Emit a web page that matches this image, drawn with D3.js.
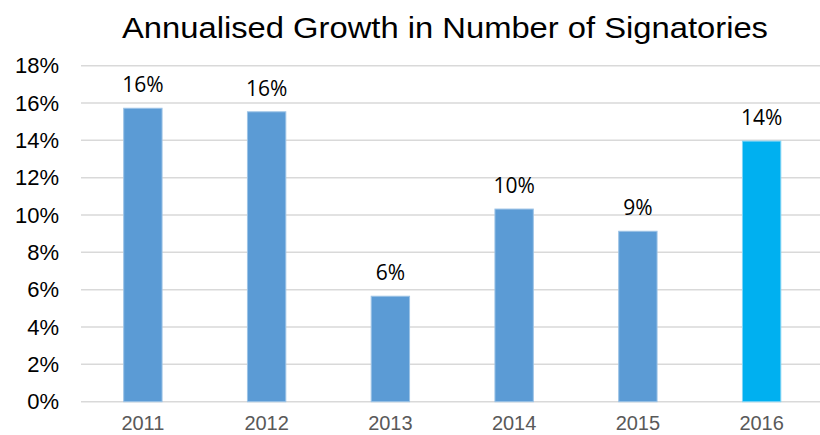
<!DOCTYPE html>
<html>
<head>
<meta charset="utf-8">
<script src="https://cdn.jsdelivr.net/npm/d3@7"></script>
<style>
  body { margin: 0; background: #fff; }
  svg { display: block; }
</style>
</head>
<body>
<svg id="chart"></svg>
<script>
const years = ['2011', '2012', '2013', '2014', '2015', '2016'];
const growth = [15.72, 15.53, 5.65, 10.32, 9.13, 13.96];
const labels = ['16%', '16%', '6%', '10%', '9%', '14%'];
const yTicks = [0, 2, 4, 6, 8, 10, 12, 14, 16, 18];

const width = 820, height = 435;
const margin = { top: 65.7, right: -3.5, bottom: 33.3, left: 81 };
const innerW = width - margin.left - margin.right;
const innerH = height - margin.top - margin.bottom;

const svg = d3.select('#chart')
    .attr('width', width)
    .attr('height', height);

// title
svg.append('text')
    .attr('x', 445)
    .attr('y', 38)
    .attr('text-anchor', 'middle')
    .attr('font-family', 'Liberation Sans, Arial, sans-serif')
    .attr('font-size', 29)
    .attr('fill', '#000')
    .attr('textLength', 646)
    .attr('lengthAdjust', 'spacingAndGlyphs')
    .text('Annualised Growth in Number of Signatories');

const chart = svg.append('g')
    .attr('transform', `translate(${margin.left}, ${margin.top})`);

const xScale = d3.scaleBand()
    .domain(years)
    .range([0, innerW])
    .paddingInner(0.69)
    .paddingOuter(0.345);

const yScale = d3.scaleLinear()
    .domain([0, 18])
    .range([innerH, 0]);

// gridlines
chart.append('g')
    .selectAll('line')
    .data(yTicks)
    .join('line')
        .attr('x1', 0)
        .attr('x2', innerW)
        .attr('y1', d => yScale(d))
        .attr('y2', d => yScale(d))
        .attr('stroke', '#d9d9d9')
        .attr('stroke-width', 1.5);

// y axis labels
const yAxis = d3.axisLeft(yScale)
    .tickValues(yTicks)
    .tickFormat(d => d + '%')
    .tickSize(0)
    .tickPadding(22);

const yAxisG = chart.append('g').call(yAxis);
yAxisG.select('.domain').remove();
yAxisG.selectAll('text')
    .attr('font-family', 'Liberation Sans, Arial, sans-serif')
    .attr('font-size', 22)
    .attr('fill', '#000');

// x axis labels
const xAxis = d3.axisBottom(xScale)
    .tickSize(0)
    .tickPadding(14);

const xAxisG = chart.append('g')
    .attr('transform', `translate(0, ${innerH})`)
    .call(xAxis);
xAxisG.select('.domain').remove();
xAxisG.selectAll('text')
    .attr('font-family', 'Liberation Sans, Arial, sans-serif')
    .attr('font-size', 20)
    .attr('fill', '#595959');

// bars
chart.append('g')
    .selectAll('rect')
    .data(growth)
    .join('rect')
        .attr('x', (d, i) => xScale(years[i]))
        .attr('y', d => yScale(d))
        .attr('width', xScale.bandwidth())
        .attr('height', d => innerH - yScale(d))
        .attr('fill', (d, i) => i === years.length - 1 ? '#00b0f0' : '#5b9bd5')
        .attr('stroke', (d, i) => i === years.length - 1 ? '#7fd4f5' : '#9cc3e6')
        .attr('stroke-width', 1);

// value labels
chart.append('g')
    .selectAll('text')
    .data(growth)
    .join('text')
        .attr('x', (d, i) => xScale(years[i]) + xScale.bandwidth() / 2)
        .attr('y', d => yScale(d) - 16)
        .attr('text-anchor', 'middle')
        .attr('font-family', '"Open Sans", sans-serif')
        .attr('font-size', 21)
        .attr('fill', '#000')
        .text((d, i) => labels[i]);
</script>
</body>
</html>
